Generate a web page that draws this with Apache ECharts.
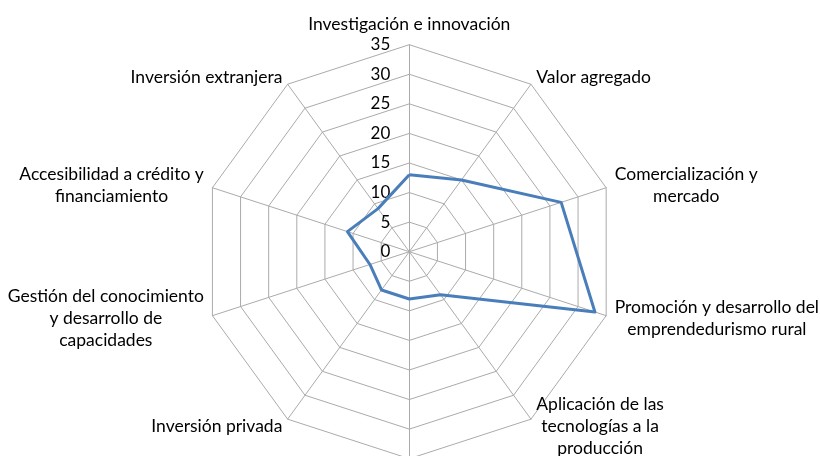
<!DOCTYPE html>
<html>
<head>
<meta charset="utf-8">
<script src="https://cdn.jsdelivr.net/npm/echarts@6/dist/echarts.min.js"></script>
<style>
html,body{margin:0;padding:0;background:#fff;}
#c{width:820px;height:456px;}
</style>
</head>
<body>
<div id="c"></div>
<script>
// Categories in clockwise order starting at the top
const categories = [
  'Investigación e innovación',
  'Valor agregado',
  'Comercialización y\nmercado',
  'Promoción y desarrollo del\nemprendedurismo rural',
  'Aplicación de las\ntecnologías a la\nproducción',
  '',
  'Inversión privada',
  'Gestión del conocimiento\ny desarrollo de\ncapacidades',
  'Accesibilidad a crédito y\nfinanciamiento',
  'Inversión extranjera'
];
const values = [13, 15, 27, 33, 9, 8, 8, 7, 11, 9];
const axisMin = 0;
const axisMax = 35;
const axisStep = 5;

// ECharts places radar indicators counter-clockwise; reorder to draw clockwise
const order = [0].concat(categories.map((_, i) => i).slice(1).reverse());
const FONT = 'Lato';

const indicator = order.map((i, k) => {
  const ind = { name: categories[i], min: axisMin, max: axisMax };
  if (k === 0) ind.axisLabel = { show: true };
  return ind;
});

const chart = echarts.init(document.getElementById('c'), null, { renderer: 'canvas' });
chart.setOption({
  backgroundColor: '#ffffff',
  animation: false,
  radar: {
    center: [409.3, 251.7],
    radius: 207,
    startAngle: 90,
    shape: 'polygon',
    splitNumber: (axisMax - axisMin) / axisStep,
    nameGap: 9,
    axisName: {
      color: '#000',
      fontFamily: FONT,
      fontSize: 17.5,
      lineHeight: 22,
      formatter: function (name) {
        if (!name) return '';
        return name.split('\n').map(l => '{c|' + l + '}').join('\n');
      },
      rich: {
        c: { align: 'center', fontFamily: FONT, fontSize: 17.5, lineHeight: 22, color: '#000' }
      }
    },
    axisLine: { lineStyle: { color: '#ababab', width: 1 } },
    splitLine: { lineStyle: { color: '#ababab', width: 1 } },
    splitArea: { show: false },
    axisTick: { show: false },
    axisLabel: {
      show: false,
      color: '#000',
      fontFamily: FONT,
      fontSize: 17,
      margin: 19
    },
    indicator: indicator
  },
  series: [{
    type: 'radar',
    symbol: 'none',
    lineStyle: { color: '#4a7ebb', width: 3 },
    itemStyle: { color: '#4a7ebb' },
    data: [{ value: order.map(i => values[i]) }]
  }]
});
</script>
</body>
</html>
